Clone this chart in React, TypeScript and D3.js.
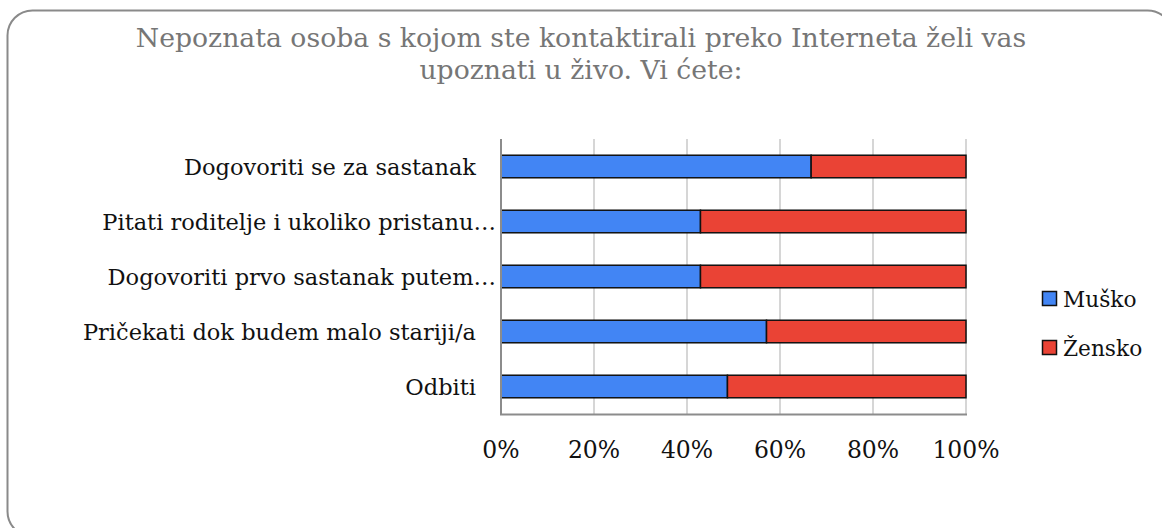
import React from "react";
import * as d3 from "d3";

const titleLines = [
  "Nepoznata osoba s kojom ste kontaktirali preko Interneta želi vas",
  "upoznati u živo. Vi ćete:",
];
const categories = [
  "Dogovoriti se za sastanak",
  "Pitati roditelje i ukoliko pristanu…",
  "Dogovoriti prvo sastanak putem…",
  "Pričekati dok budem malo stariji/a",
  "Odbiti",
];
const musko = [66.7, 42.9, 42.9, 57.1, 48.7];
const zensko = [33.3, 57.1, 57.1, 42.9, 51.3];
const seriesNames = ["Muško", "Žensko"];
const seriesColors = ["#4285f4", "#ea4335"];
const xTicks = [0, 20, 40, 60, 80, 100];

const W = 1162;
const H = 528;
const FONT = "'DejaVu Serif', serif";

export default function App() {
  const x = d3.scaleLinear().domain([0, 100]).range([501, 966]);
  const y = d3.scaleBand<string>().domain(categories).range([139, 414]).paddingInner(0.59).paddingOuter(0.295);
  const stack = d3.stack<number>().keys(["0", "1"]).value((i, k) => (k === "0" ? musko[i] : zensko[i]));
  const series = stack(d3.range(categories.length));

  return (
    <svg width={W} height={H} style={{ position: "fixed", left: 0, top: 0, background: "#fff" }} fontFamily={FONT}>
      <rect x={7.5} y={10.5} width={1165} height={526} rx={25} ry={25} fill="#fff" stroke="#8a8a8a" strokeWidth={2} />
      {titleLines.map((t, i) => (
        <text key={i} x={581} y={47 + i * 32} textAnchor="middle" fontSize={26.7} fill="#767676">
          {t}
        </text>
      ))}
      {xTicks.map((t) => (
        <line key={"g" + t} x1={x(t)} x2={x(t)} y1={139} y2={414} stroke="#c8c8c8" strokeWidth={1.5} />
      ))}
      {series.map((s, si) =>
        s.map((d, i) => (
          <rect
            key={si + "-" + i}
            x={x(d[0])}
            y={y(categories[i])}
            width={x(d[1]) - x(d[0])}
            height={y.bandwidth()}
            fill={seriesColors[si]}
            stroke="#111"
            strokeWidth={1.5}
          />
        ))
      )}
      <line x1={501} x2={501} y1={139} y2={414.5} stroke="#8c8c8c" strokeWidth={2} />
      <line x1={500} x2={967} y1={414.5} y2={414.5} stroke="#8c8c8c" strokeWidth={2} />
      {categories.map((c, i) => (
        <text
          key={c}
          x={c.endsWith("…") ? 496 : 476}
          y={(y(c) as number) + y.bandwidth() / 2}
          dy="0.36em"
          textAnchor="end"
          fontSize={22.5}
          fill="#111"
        >
          {c}
        </text>
      ))}
      {xTicks.map((t) => (
        <text key={"t" + t} x={x(t)} y={458} textAnchor="middle" fontSize={23.5} fill="#111">
          {t}%
        </text>
      ))}
      {seriesNames.map((n, i) => (
        <g key={n} transform={`translate(1042,${291 + i * 49})`}>
          <rect x={0.5} y={0.5} width={14} height={14} fill={seriesColors[i]} stroke="#111" strokeWidth={1.5} />
          <text x={21} y={15.5} fontSize={21.7} fill="#111">
            {n}
          </text>
        </g>
      ))}
    </svg>
  );
}
